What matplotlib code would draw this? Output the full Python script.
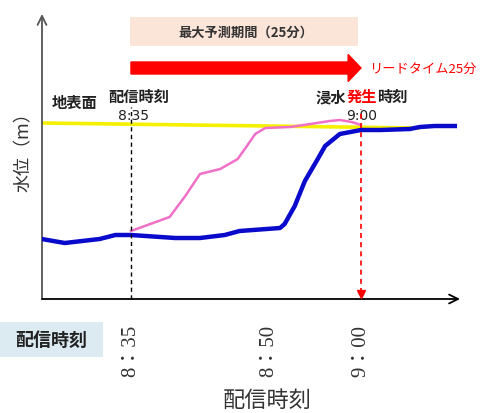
import matplotlib
matplotlib.use("Agg")
import matplotlib.pyplot as plt
from matplotlib.patches import Rectangle, FancyArrow

plt.rcParams["font.family"] = ["Noto Sans CJK JP", "DejaVu Sans"]

# time axis: minutes after 8:00
tick_min = [35, 50, 60]
tick_labels = ["8：35", "8：50", "9：00"]

# observed water level (blue)
obs_t = [25.3, 27.8, 31.6, 33.3, 35.0, 39.8, 42.5, 45.2, 46.8, 51.2, 51.7,
         52.8, 53.9, 55.3, 56.1, 57.7, 60.0, 62.1, 65.3, 66.4, 68.0, 70.2]
obs_level = [0.60, 0.56, 0.60, 0.64, 0.64, 0.61, 0.61, 0.64, 0.68, 0.71, 0.75,
             0.93, 1.18, 1.40, 1.53, 1.65, 1.69, 1.69, 1.70, 1.72, 1.73, 1.73]

# forecast issued at 8:35 (pink)
pred_t = [35.0, 36.5, 39.2, 40.9, 42.5, 44.7, 46.6, 47.6, 48.5, 49.6,
          52.3, 54.5, 56.6, 57.7, 59.0, 60.0]
pred_level = [0.68, 0.73, 0.82, 1.03, 1.25, 1.30, 1.40, 1.53, 1.65, 1.71,
              1.72, 1.75, 1.78, 1.79, 1.77, 1.74]

# ground surface
ground_t = [25.3, 66.2]
ground_level = [1.76, 1.71]

issue_t = 35     # 8:35
flood_t = 60     # 9:00
lead_min = flood_t - issue_t

W, H = 481, 414


def fig_xy(px, py):
    return px / W, 1 - py / H


fig = plt.figure(figsize=(W / 100, H / 100), dpi=100)
ax = fig.add_axes([42 / W, 1 - 300 / H, 418 / W, 285 / H])
ax.set_xlim(25.33, 70.76)
ax.set_ylim(0, 2.85)
for s in ax.spines.values():
    s.set_visible(False)
ax.set_yticks([])
ax.set_xticks(tick_min, tick_labels, rotation=90, fontsize=15, color="#333333",
              family=["Liberation Serif", "Noto Sans CJK JP"])
ax.tick_params(axis="x", length=0, pad=18)

# axes drawn as arrows
ax.annotate("", xy=(0, 1.0), xytext=(0, 0), xycoords="axes fraction",
            arrowprops=dict(arrowstyle="->", color="#555555", lw=1.3,
                            mutation_scale=16, shrinkA=0, shrinkB=0))
ax.annotate("", xy=(1.0, 0), xytext=(0, 0), xycoords="axes fraction",
            arrowprops=dict(arrowstyle="->", color="black", lw=1.3,
                            mutation_scale=16, shrinkA=0, shrinkB=0))

# series
ax.plot(ground_t, ground_level, color="#F5F000", lw=2.6, zorder=2)
ax.plot(pred_t, pred_level, color="#F070C8", lw=1.8, zorder=3)
ax.plot(obs_t, obs_level, color="#0A0ACC", lw=3.2, zorder=4)

# issue time / flood time markers
ax.plot([issue_t, issue_t], [0, 1.92], color="black", lw=1.0, ls=(0, (3, 2.5)),
        zorder=5, clip_on=False)
ax.plot([flood_t, flood_t], [0.06, 1.90], color="red", lw=1.2, ls=(0, (3, 2.5)),
        zorder=5, clip_on=False)
ax.plot([flood_t], [0.05], marker="v", color="red", ms=6, zorder=6, clip_on=False)

# max forecast period box
ax.add_patch(Rectangle((issue_t - 0.1, 2.53), lead_min - 0.2, 0.29,
                       facecolor="#FBE4D8", edgecolor="none", clip_on=False))
ax.text(issue_t + lead_min / 2, 2.675, f"最大予測期間（{lead_min}分）", ha="center",
        va="center", fontsize=9.5, fontweight="bold", color="#333333")

# lead time arrow
ax.add_patch(FancyArrow(issue_t, 2.31, lead_min, 0, width=0.12, head_width=0.27,
                        head_length=1.4, length_includes_head=True,
                        color="red", clip_on=False))
ax.text(flood_t + 0.9, 2.31, f"リードタイム{lead_min}分", ha="left", va="center",
        fontsize=9.5, color="red", clip_on=False)

# labels near the ground line
ax.text(26.4, 1.97, "地表面", ha="left", va="center", fontsize=11,
        fontweight="bold", color="#222222")
ax.text(32.5, 2.03, "配信時刻", ha="left", va="center", fontsize=11,
        fontweight="bold", color="#222222")
ax.text(issue_t + 0.3, 1.84, "8:35", ha="center", va="center", fontsize=10,
        color="#222222", family="DejaVu Sans")

# 浸水発生時刻 in three pieces, 発生 in red, each piece two em wide
fs = 11
for i, (word, col) in enumerate([("浸水", "#222222"), ("発生", "red"),
                                 ("時刻", "#222222")]):
    ax.annotate(word, xy=(flood_t - 4.9, 2.03), xytext=(2 * fs * i, 0),
                textcoords="offset points", ha="left", va="center",
                fontsize=fs, fontweight="bold", color=col)
ax.text(flood_t + 0.1, 1.84, "9:00", ha="center", va="center", fontsize=10,
        color="#222222", family="DejaVu Sans")

# axis titles
fig.text(*fig_xy(24, 148), "水位（m）", rotation=90, ha="center", va="center",
         fontsize=13, color="#333333")
fig.text(*fig_xy(267, 400), "配信時刻", ha="center", va="center",
         fontsize=16, color="#333333")

# "配信時刻" tag at the lower left
x0, y0 = fig_xy(0, 358)
fig.add_artist(Rectangle((x0, y0), 103 / W, 35 / H, transform=fig.transFigure,
                         facecolor="#DCEAF2", edgecolor="none"))
fig.text(*fig_xy(51, 340), "配信時刻", ha="center", va="center", fontsize=13,
         fontweight="bold", color="#222222")

fig.savefig("out.png", dpi=100)
